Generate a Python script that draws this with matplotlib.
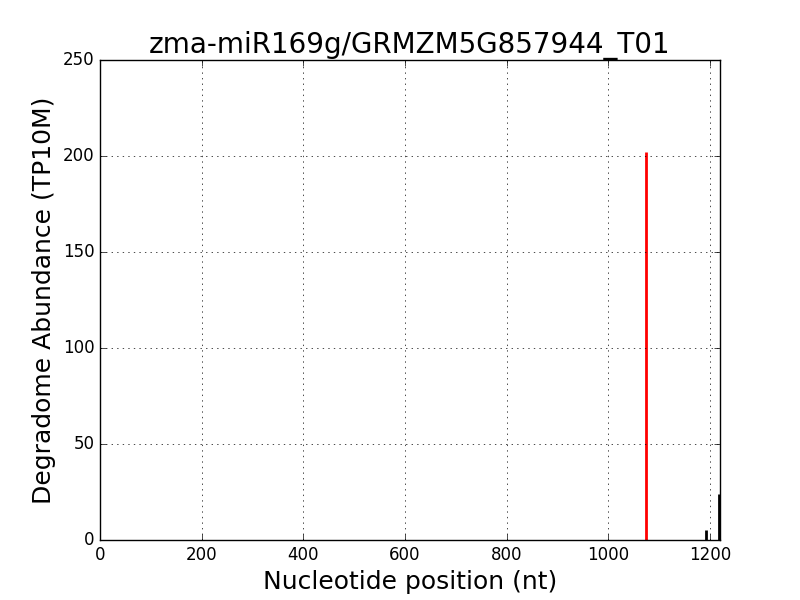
import matplotlib
matplotlib.use("Agg")
import matplotlib.pyplot as plt

plt.style.use("classic")

# degradome peaks
positions = [1193, 1219]
abundance = [5, 24]
target_pos = [1075]
target_abund = [202]
transcript_len = 1220

fig = plt.figure(figsize=(8, 6), dpi=100, facecolor="white")
ax = fig.add_subplot(111)

ax.vlines(positions, 0, abundance, colors="black", linewidth=2)
ax.vlines(target_pos, 0, target_abund, colors="red", linewidth=2)

ax.set_xlim(0, transcript_len)
ax.set_ylim(0, 250)
ax.grid(True)
ax.set_title("zma-miR169g/GRMZM5G857944_T01", fontsize=20)
ax.set_xlabel("Nucleotide position (nt)", fontsize=18)
ax.set_ylabel("Degradome Abundance (TP10M)", fontsize=18)

fig.savefig("out.png", dpi=100, facecolor="white")
